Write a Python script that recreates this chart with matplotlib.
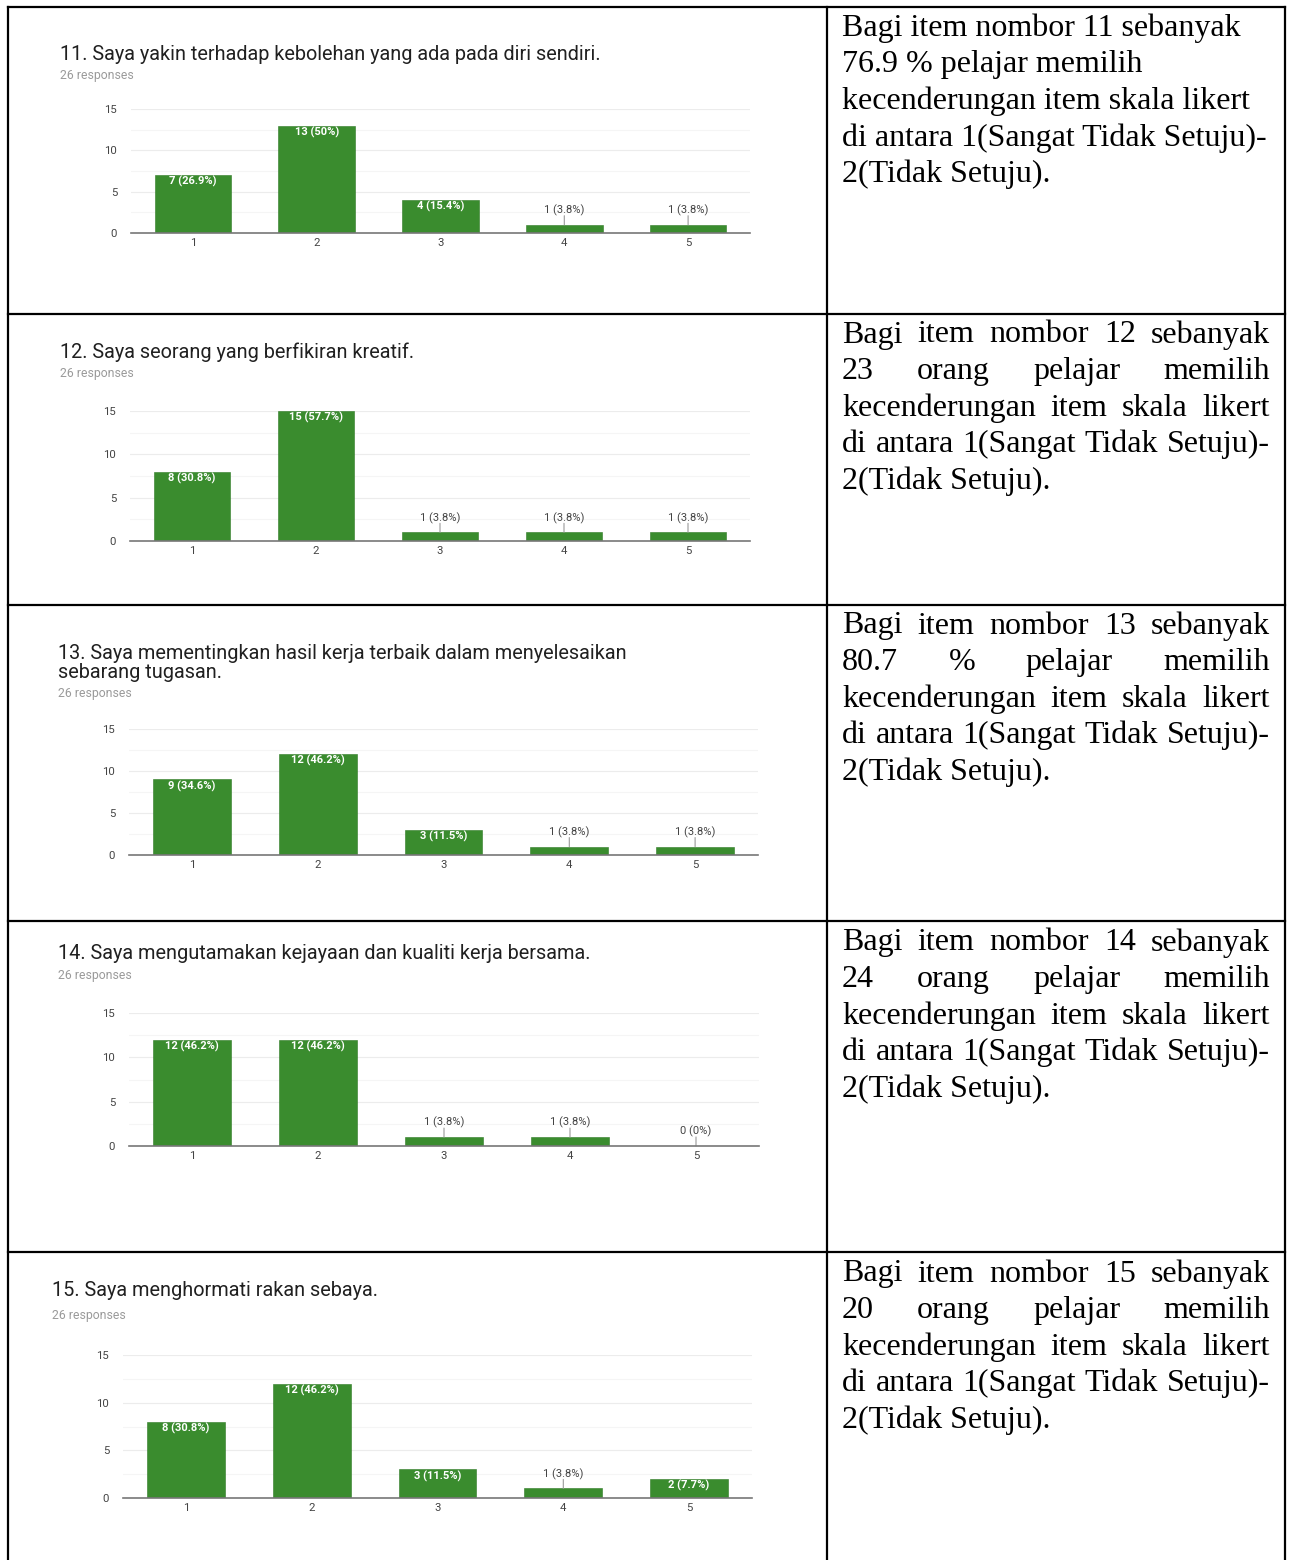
import matplotlib
matplotlib.use("Agg")
import matplotlib.pyplot as plt
from matplotlib.lines import Line2D

# ---------------- data ----------------
categories = ["1", "2", "3", "4", "5"]

titles = [
    "11. Saya yakin terhadap kebolehan yang ada pada diri sendiri.",
    "12. Saya seorang yang berfikiran kreatif.",
    "13. Saya mementingkan hasil kerja terbaik dalam menyelesaikan\nsebarang tugasan.",
    "14. Saya mengutamakan kejayaan dan kualiti kerja bersama.",
    "15. Saya menghormati rakan sebaya.",
]
responses_label = "26 responses"

counts_q11 = [7, 13, 4, 1, 1]
counts_q12 = [8, 15, 1, 1, 1]
counts_q13 = [9, 12, 3, 1, 1]
counts_q14 = [12, 12, 1, 1, 0]
counts_q15 = [8, 12, 3, 1, 2]

labels_q11 = ["7 (26.9%)", "13 (50%)", "4 (15.4%)", "1 (3.8%)", "1 (3.8%)"]
labels_q12 = ["8 (30.8%)", "15 (57.7%)", "1 (3.8%)", "1 (3.8%)", "1 (3.8%)"]
labels_q13 = ["9 (34.6%)", "12 (46.2%)", "3 (11.5%)", "1 (3.8%)", "1 (3.8%)"]
labels_q14 = ["12 (46.2%)", "12 (46.2%)", "1 (3.8%)", "1 (3.8%)", "0 (0%)"]
labels_q15 = ["8 (30.8%)", "12 (46.2%)", "3 (11.5%)", "1 (3.8%)", "2 (7.7%)"]

yticks = [0, 5, 10, 15]

notes = [
    ["Bagi item nombor 11 sebanyak", "76.9 % pelajar memilih",
     "kecenderungan item skala likert", "di antara 1(Sangat Tidak Setuju)-",
     "2(Tidak Setuju)."],
    ["Bagi item nombor 12 sebanyak", "23 orang pelajar memilih",
     "kecenderungan item skala likert", "di antara 1(Sangat Tidak Setuju)-",
     "2(Tidak Setuju)."],
    ["Bagi item nombor 13 sebanyak", "80.7 % pelajar memilih",
     "kecenderungan item skala likert", "di antara 1(Sangat Tidak Setuju)-",
     "2(Tidak Setuju)."],
    ["Bagi item nombor 14 sebanyak", "24 orang pelajar memilih",
     "kecenderungan item skala likert", "di antara 1(Sangat Tidak Setuju)-",
     "2(Tidak Setuju)."],
    ["Bagi item nombor 15 sebanyak", "20 orang pelajar memilih",
     "kecenderungan item skala likert", "di antara 1(Sangat Tidak Setuju)-",
     "2(Tidak Setuju)."],
]
justified = [False, True, True, True, True]

all_counts = [counts_q11, counts_q12, counts_q13, counts_q14, counts_q15]
all_labels = [labels_q11, labels_q12, labels_q13, labels_q14, labels_q15]

# ---------------- layout (pixels) ----------------
W, H = 1290, 1560
DPI = 100
fig = plt.figure(figsize=(W / DPI, H / DPI), dpi=DPI)
fig.patch.set_facecolor("white")

def fx(px):
    return px / W

def fy(py):
    return 1 - py / H

# table lines
lw = 1.6
h_lines = [7, 314, 605, 921, 1252]
for yy in h_lines:
    fig.add_artist(Line2D([fx(8), fx(1285)], [fy(yy), fy(yy)], color="black", lw=lw))
for xx in [8, 827, 1285]:
    fig.add_artist(Line2D([fx(xx), fx(xx)], [fy(7), fy(1560)], color="black", lw=lw))

# per-row chart geometry: (title_x, title_y, resp_y, ax_left, ax_right, y15, y0)
geom = [
    (60, 54, 75, 131, 750, 109, 233),
    (60, 352, 374, 130, 750, 411, 541),
    (58, 663, 693, 129, 758, 729, 855),
    (58, 953, 976, 129, 759, 1013, 1146),
    (52, 1291, 1315, 123, 752, 1355, 1498),
]

green = "#3a8c2e"
sans = ["Roboto", "DejaVu Sans"]

for i in range(5):
    tx, ty, ry, axl, axr, y15, y0 = geom[i]
    fig.text(fx(tx), fy(ty), titles[i], fontsize=14.3, family=sans, color="#202020",
             ha="left", va="center", linespacing=0.98)
    fig.text(fx(tx), fy(ry), responses_label, fontsize=8.8, family=sans, color="#9a9a9a",
             ha="left", va="center")

    ax = fig.add_axes([fx(axl), fy(y0), fx(axr) - fx(axl), (y0 - y15) / H])
    x = list(range(1, 6))
    vals = all_counts[i]
    ax.bar(x, vals, width=0.62, color=green, edgecolor="#2f7a25", linewidth=0.4, zorder=3)
    ax.set_xlim(0.5, 5.5)
    ax.set_ylim(0, 15)
    ax.set_yticks(yticks)
    ax.set_yticks([2.5, 7.5, 12.5], minor=True)
    ax.set_xticks(x)
    ax.set_xticklabels(categories)
    ax.grid(axis="y", which="major", color="#ececec", lw=0.8, zorder=0)
    ax.grid(axis="y", which="minor", color="#f5f5f5", lw=0.8, zorder=0)
    for s in ["top", "right", "left"]:
        ax.spines[s].set_visible(False)
    ax.spines["bottom"].set_color("#777777")
    ax.spines["bottom"].set_linewidth(1.2)
    ax.spines["bottom"].set_zorder(4)
    ax.tick_params(axis="both", which="both", length=0, labelsize=8.2,
                   labelcolor="#444444")
    ax.tick_params(axis="y", pad=10)
    ax.tick_params(axis="x", pad=3.5)
    for lab in ax.get_xticklabels() + ax.get_yticklabels():
        lab.set_family(sans)
    ax.set_facecolor("white")

    for xi, v, lab in zip(x, vals, all_labels[i]):
        if v >= 2:
            ax.annotate(lab, (xi, v), xytext=(0, -4.8), textcoords="offset points",
                        ha="center", va="center", fontsize=8.0, color="white",
                        family=sans, fontweight="bold", zorder=5)
        else:
            ax.annotate(lab, (xi, v), xytext=(0, 10.5), textcoords="offset points",
                        ha="center", va="center", fontsize=8.0, color="#444444",
                        family=sans, zorder=5, annotation_clip=False)
            ax.annotate("", (xi, v), xytext=(0, 6.5), textcoords="offset points",
                        arrowprops=dict(arrowstyle="-", color="#999999", lw=0.8,
                                        shrinkA=0, shrinkB=0),
                        annotation_clip=False)

# ---------------- right column text ----------------
serif = ["Liberation Serif", "DejaVu Serif"]
fs = 23.0
text_left = 842
text_right = 1270
line_gap = 36.6
first_line_y = [28, 335, 626, 943, 1274]

renderer = fig.canvas.get_renderer()

def word_width(word):
    t = fig.text(0, 0, word, fontsize=fs, family=serif)
    w = t.get_window_extent(renderer=renderer).width
    t.remove()
    return w

for i in range(5):
    for k, line in enumerate(notes[i]):
        yy = first_line_y[i] + k * line_gap
        last = (k == len(notes[i]) - 1)
        if justified[i] and not last:
            words = line.split(" ")
            widths = [word_width(w) for w in words]
            gap = (text_right - text_left - sum(widths)) / (len(words) - 1)
            cx = text_left
            for w, wd in zip(words, widths):
                fig.text(fx(cx), fy(yy), w, fontsize=fs, family=serif, color="black",
                         ha="left", va="center")
                cx += wd + gap
        else:
            fig.text(fx(text_left), fy(yy), line, fontsize=fs, family=serif,
                     color="black", ha="left", va="center")

fig.savefig("out.png", dpi=DPI, facecolor="white")
